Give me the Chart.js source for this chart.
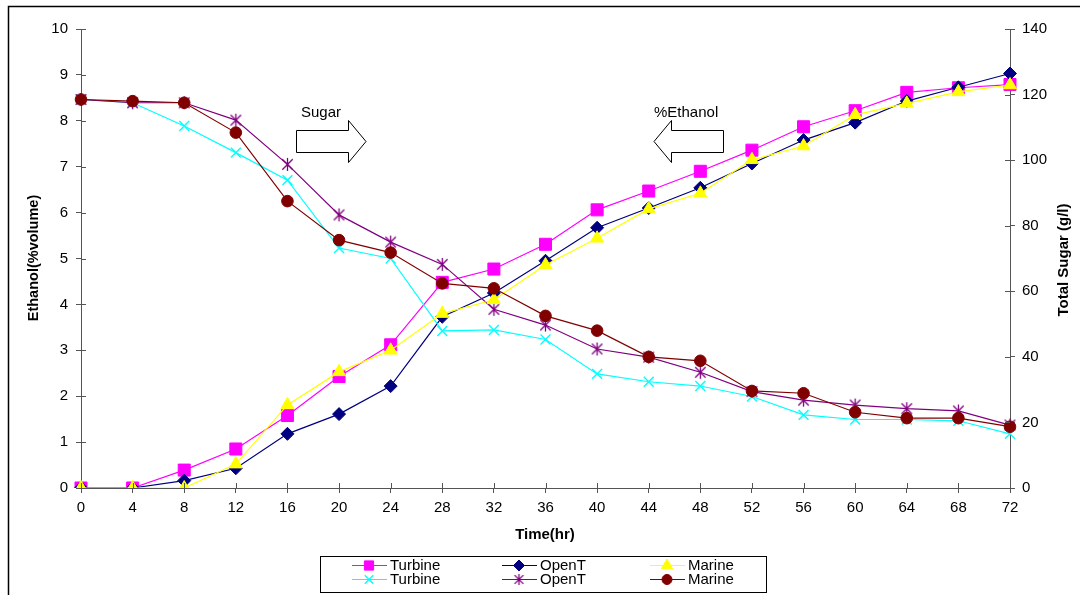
<!DOCTYPE html>
<html>
<head>
<meta charset="utf-8">
<title>Ethanol and total sugar over fermentation time</title>
<script src="https://cdn.jsdelivr.net/npm/chart.js@4.4.1/dist/chart.umd.min.js"></script>
<style>
  html, body { margin: 0; padding: 0; background: #ffffff; }
  #wrap { width: 1085px; height: 595px; position: relative; }
</style>
</head>
<body>
<div id="wrap"><canvas id="chart" width="1085" height="595"></canvas></div>
<script>
// Sampling times (hours)
const hours = [0, 4, 8, 12, 16, 20, 24, 28, 32, 36, 40, 44, 48, 52, 56, 60, 64, 68, 72];

// Ethanol (% volume), left axis
const ethanolTurbine = [0, 0, 0.39, 0.85, 1.58, 2.43, 3.12, 4.48, 4.77, 5.31, 6.06, 6.47, 6.90, 7.36, 7.87, 8.22, 8.62, 8.72, 8.79];
const ethanolOpenT   = [0, 0, 0.16, 0.43, 1.18, 1.61, 2.22, 3.73, 4.25, 4.95, 5.67, 6.10, 6.54, 7.07, 7.58, 7.96, 8.43, 8.73, 9.03];
const ethanolMarine  = [0, 0, 0, 0.52, 1.81, 2.53, 3.00, 3.80, 4.10, 4.86, 5.44, 6.08, 6.42, 7.15, 7.45, 8.13, 8.38, 8.63, 8.78];

// Total sugar (g/l), right axis
const sugarTurbine = [118.5, 117.5, 110.4, 102.3, 93.9, 73.2, 70.0, 47.9, 48.2, 45.3, 34.8, 32.4, 31.1, 27.9, 22.3, 20.9, 20.9, 20.5, 16.5];
const sugarOpenT   = [118.5, 117.5, 117.5, 112.2, 98.7, 83.3, 75.0, 68.2, 54.5, 49.7, 42.4, 39.9, 35.3, 29.4, 26.8, 25.3, 24.2, 23.5, 19.2];
const sugarMarine  = [118.5, 118.0, 117.5, 108.4, 87.5, 75.6, 71.8, 62.4, 60.9, 52.5, 48.0, 40.0, 38.8, 29.6, 28.9, 23.1, 21.3, 21.3, 18.7];

// Axis ranges and titles
const ethanolTicks = { min: 0, max: 10, step: 1 };
const sugarTicks = { min: 0, max: 140, step: 20 };
const xTitle = 'Time(hr)';
const yTitle = 'Ethanol(%volume)';
const y2Title = 'Total Sugar (g/l)';

const FONT = '"Liberation Sans", Arial, sans-serif';
const AXIS_COLOR = '#555555';

// Asterisk marker: an x with a vertical stroke through it
function asteriskMarker(color, size) {
  const c = document.createElement('canvas');
  c.width = size; c.height = size;
  const g = c.getContext('2d');
  const m = size / 2, r = size / 2 - 1;
  g.strokeStyle = color;
  g.lineWidth = 1.3;
  g.beginPath();
  g.moveTo(m, m - r); g.lineTo(m, m + r);
  const d = r * 0.8;
  g.moveTo(m - d, m - d); g.lineTo(m + d, m + d);
  g.moveTo(m + d, m - d); g.lineTo(m - d, m + d);
  g.stroke();
  return c;
}

function series(label, data, axis, color, pointStyle, radius, order, pointBorder) {
  return {
    label, data, yAxisID: axis, order,
    borderColor: color, backgroundColor: color,
    borderWidth: 1.2,
    pointStyle, pointRadius: radius, pointHoverRadius: radius,
    pointBackgroundColor: color, pointBorderColor: color,
    pointBorderWidth: pointBorder,
    tension: 0, fill: false
  };
}

const asteriskPlot = asteriskMarker('#800080', 15);
const asteriskKey = asteriskMarker('#800080', 13);

const datasets = [
  series('Turbine', ethanolTurbine, 'y', '#FF00FF', 'rect', 8.5, 5, 1),
  series('OpenT', ethanolOpenT, 'y', '#000080', 'rectRot', 6.5, 4, 1),
  series('Marine', ethanolMarine, 'y', '#FFFF00', 'triangle', 7.5, 1, 1),
  series('Turbine', sugarTurbine, 'y2', '#00FFFF', 'crossRot', 7, 3, 1.4),
  series('OpenT', sugarOpenT, 'y2', '#800080', asteriskPlot, 7, 2, 1.3),
  series('Marine', sugarMarine, 'y2', '#800000', 'circle', 5.8, 0, 1)
];

// Short tick marks that cross each axis line (inner half)
const innerTicks = {
  id: 'innerTicks',
  afterDraw(chart) {
    const { ctx, chartArea } = chart;
    ctx.save();
    ctx.strokeStyle = AXIS_COLOR;
    ctx.lineWidth = 1;
    const sx = chart.scales.x;
    sx.ticks.forEach((t, i) => {
      const px = Math.round(sx.getPixelForTick(i)) + 0.5;
      ctx.beginPath();
      ctx.moveTo(px, chartArea.bottom);
      ctx.lineTo(px, chartArea.bottom - 5);
      ctx.stroke();
    });
    const sy = chart.scales.y;
    sy.ticks.forEach((t, i) => {
      const py = Math.round(sy.getPixelForTick(i)) + 0.5;
      ctx.beginPath();
      ctx.moveTo(chartArea.left, py);
      ctx.lineTo(chartArea.left + 5, py);
      ctx.stroke();
    });
    const sy2 = chart.scales.y2;
    sy2.ticks.forEach((t, i) => {
      const py = Math.round(sy2.getPixelForTick(i)) + 0.5;
      ctx.beginPath();
      ctx.moveTo(chartArea.right, py);
      ctx.lineTo(chartArea.right - 5, py);
      ctx.stroke();
    });
    ctx.restore();
  }
};

// Outer frame, axis titles and the two block-arrow callouts
const decorations = {
  id: 'decorations',
  afterDraw(chart) {
    const { ctx } = chart;
    ctx.save();
    // frame (top and left edges)
    ctx.strokeStyle = '#000000';
    ctx.lineWidth = 1.5;
    ctx.beginPath();
    ctx.moveTo(8.5, 595);
    ctx.lineTo(8.5, 6.5);
    ctx.lineTo(1080, 6.5);
    ctx.stroke();

    // axis titles
    ctx.fillStyle = '#000000';
    ctx.textAlign = 'center';
    ctx.textBaseline = 'middle';
    ctx.font = 'bold 15px ' + FONT;
    ctx.fillText(xTitle, 545, 535);

    ctx.save();
    ctx.font = 'bold 14.5px ' + FONT;
    ctx.translate(34, 258);
    ctx.rotate(-Math.PI / 2);
    ctx.fillText(yTitle, 0, 0);
    ctx.restore();

    ctx.save();
    ctx.font = 'bold 15px ' + FONT;
    ctx.translate(1064, 260);
    ctx.rotate(-Math.PI / 2);
    ctx.fillText(y2Title, 0, 0);
    ctx.restore();

    // block arrows
    ctx.lineWidth = 1;
    ctx.strokeStyle = '#000000';
    ctx.fillStyle = '#ffffff';
    // right-pointing arrow
    ctx.beginPath();
    ctx.moveTo(296.5, 130.5);
    ctx.lineTo(348.5, 130.5);
    ctx.lineTo(348.5, 120.5);
    ctx.lineTo(366, 141.5);
    ctx.lineTo(348.5, 162.5);
    ctx.lineTo(348.5, 152.5);
    ctx.lineTo(296.5, 152.5);
    ctx.closePath();
    ctx.fill();
    ctx.stroke();
    // left-pointing arrow
    ctx.beginPath();
    ctx.moveTo(723.5, 130.5);
    ctx.lineTo(671.5, 130.5);
    ctx.lineTo(671.5, 120.5);
    ctx.lineTo(654, 141.5);
    ctx.lineTo(671.5, 162.5);
    ctx.lineTo(671.5, 152.5);
    ctx.lineTo(723.5, 152.5);
    ctx.closePath();
    ctx.fill();
    ctx.stroke();

    ctx.fillStyle = '#000000';
    ctx.font = '15px ' + FONT;
    ctx.textAlign = 'left';
    ctx.textBaseline = 'middle';
    ctx.fillText('Sugar', 301, 113);
    ctx.fillText('%Ethanol', 654, 113);
    ctx.restore();
  }
};

// Boxed legend: two rows of three entries
const boxLegend = {
  id: 'boxLegend',
  afterDraw(chart) {
    const { ctx } = chart;
    ctx.save();
    ctx.strokeStyle = '#000000';
    ctx.lineWidth = 1;
    ctx.fillStyle = '#ffffff';
    ctx.fillRect(320.5, 556.5, 446, 36);
    ctx.strokeRect(320.5, 556.5, 446, 36);
    const cols = [352, 502, 650];
    const rows = [565, 579];
    const layout = [[0, 0, 0], [1, 0, 1], [2, 0, 2], [3, 1, 0], [4, 1, 1], [5, 1, 2]];
    const legendRadius = { rect: 6.5, rectRot: 5.5, triangle: 6.5, crossRot: 6, circle: 5 };
    layout.forEach(([di, r, c]) => {
      const ds = chart.data.datasets[di];
      const x0 = cols[c], y = rows[r] + 0.5;
      ctx.strokeStyle = ds.borderColor;
      ctx.lineWidth = 1.2;
      ctx.beginPath();
      ctx.moveTo(x0, y);
      ctx.lineTo(x0 + 35, y);
      ctx.stroke();
      ctx.fillStyle = ds.pointBackgroundColor;
      ctx.strokeStyle = ds.pointBorderColor;
      ctx.lineWidth = ds.pointBorderWidth;
      const style = typeof ds.pointStyle === 'string' ? ds.pointStyle : asteriskKey;
      Chart.helpers.drawPoint(ctx, {
        pointStyle: style,
        radius: legendRadius[style] || 6,
        borderWidth: ds.pointBorderWidth,
        rotation: 0
      }, x0 + 17, y);
      ctx.fillStyle = '#000000';
      ctx.font = '15px ' + FONT;
      ctx.textAlign = 'left';
      ctx.textBaseline = 'middle';
      ctx.fillText(ds.label, x0 + 38, y);
    });
    ctx.restore();
  }
};

new Chart(document.getElementById('chart'), {
  type: 'line',
  data: { labels: hours.map(String), datasets },
  options: {
    responsive: false,
    animation: false,
    events: [],
    layout: { padding: { left: 0, right: 0, top: 29, bottom: 0 } },
    plugins: { legend: { display: false }, tooltip: { enabled: false } },
    scales: {
      x: {
        type: 'category',
        offset: false,
        afterFit: s => { s.height = 107; },
        grid: { display: true, drawOnChartArea: false, drawTicks: true, tickLength: 5, color: AXIS_COLOR, offset: false },
        border: { display: true, color: AXIS_COLOR, width: 1 },
        ticks: { color: '#000000', font: { family: FONT, size: 15 }, padding: 6, maxRotation: 0, autoSkip: false }
      },
      y: {
        type: 'linear', position: 'left',
        min: ethanolTicks.min, max: ethanolTicks.max,
        afterFit: s => { s.width = 81; },
        grid: { display: true, drawOnChartArea: false, drawTicks: true, tickLength: 5, color: AXIS_COLOR },
        border: { display: true, color: AXIS_COLOR, width: 1 },
        ticks: { stepSize: ethanolTicks.step, color: '#000000', font: { family: FONT, size: 15 }, padding: 8 }
      },
      y2: {
        type: 'linear', position: 'right',
        min: sugarTicks.min, max: sugarTicks.max,
        afterFit: s => { s.width = 75; },
        grid: { display: true, drawOnChartArea: false, drawTicks: true, tickLength: 5, color: AXIS_COLOR },
        border: { display: true, color: AXIS_COLOR, width: 1 },
        ticks: { stepSize: sugarTicks.step, color: '#000000', font: { family: FONT, size: 15 }, padding: 7 }
      }
    }
  },
  plugins: [innerTicks, decorations, boxLegend]
});
</script>
</body>
</html>
